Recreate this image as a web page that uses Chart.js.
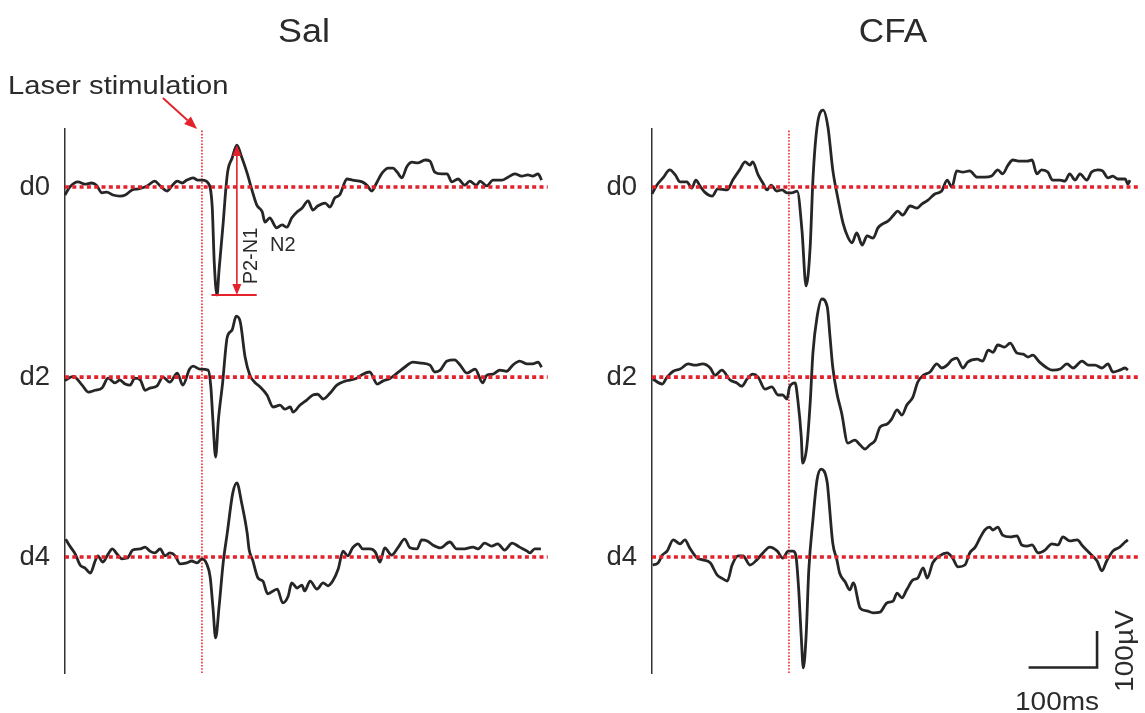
<!DOCTYPE html>
<html lang="en">
<head>
<meta charset="UTF-8">
<title>Sal vs CFA evoked potentials</title>
<script src="https://cdn.jsdelivr.net/npm/chart.js"></script>
<style>
    body {
        margin: 0;
        width: 1145px;
        height: 713px;
        overflow: hidden;
        background: #fff;
        position: relative;
        font-family: "Liberation Sans", Arial, sans-serif;
        color: #2b2b2b;
    }
    canvas { position: absolute; top: 0; }
    #salChart { left: 0; }
    #cfaChart { left: 587px; }
    .lbl { position: absolute; line-height: 1; white-space: nowrap; }
</style>
</head>
<body>
<canvas id="salChart" width="558" height="713"></canvas>
<canvas id="cfaChart" width="558" height="713"></canvas>

<div class="lbl" style="left:304px; top:13.6px; font-size:33.5px; transform:translateX(-50%) scaleX(1.07);">Sal</div>
<div class="lbl" style="left:893px; top:13.6px; font-size:33.5px; transform:translateX(-50%) scaleX(1.05);">CFA</div>
<div class="lbl" style="left:8px; top:73.4px; font-size:25.6px; transform-origin:left center; transform:scaleX(1.14);">Laser stimulation</div>
<div class="lbl" style="left:270px; top:234.4px; font-size:20px;">N2</div>
<div class="lbl" style="left:249.5px; top:255.5px; font-size:20px; transform:translate(-50%,-50%) rotate(-90deg);">P2-N1</div>
<div class="lbl" style="left:1015px; top:688.7px; font-size:25px; transform-origin:left center; transform:scaleX(1.12);">100ms</div>
<div class="lbl" style="left:1123.5px; top:651px; font-size:26px; transform:translate(-50%,-50%) rotate(-90deg) scaleX(1.08);">100µV</div>

<script>
    // time in ms (0 = laser onset), amplitude in µV
    const salD0 = [[-200,-22],[-193,0],[-181,14],[-171,8],[-161,11],[-154,5],[-146,-16],[-139,-14],[-130,-22],[-120,-25],[-112,-22],[-102,-8],[-93,-5],[-80,3],[-69,16],[-61,3],[-51,-11],[-44,3],[-36,16],[-29,11],[-22,19],[-13,25],[-6,19],[1,19],[9,11],[15,-55],[18,-208],[22,-296],[25,-227],[31,-99],[35,-3],[38,47],[44,79],[51,115],[58,82],[66,38],[73,-8],[80,-49],[88,-68],[92,-96],[99,-85],[109,-112],[117,-104],[124,-110],[131,-85],[139,-68],[146,-58],[155,-38],[162,-63],[169,-52],[180,-44],[187,-55],[194,-30],[201,-22],[212,22],[220,19],[234,14],[241,5],[248,-11],[255,11],[263,38],[272,52],[279,52],[285,41],[292,25],[299,55],[307,68],[315,66],[326,74],[333,71],[340,41],[350,36],[358,36],[365,14],[374,22],[384,5],[391,16],[401,5],[406,16],[416,3],[425,19],[438,19],[447,27],[457,36],[467,30],[476,33],[483,30],[491,36],[496,19]];
    const salD2 = [[-200,-9],[-188,2],[-175,-22],[-166,-41],[-156,-36],[-146,-30],[-137,-3],[-127,-16],[-120,-8],[-112,-19],[-105,-22],[-98,-3],[-90,-8],[-83,-36],[-76,-30],[-66,-25],[-57,0],[-47,-14],[-36,11],[-28,-22],[-18,22],[-13,30],[-3,22],[9,19],[13,-27],[16,-118],[20,-219],[24,-118],[30,-19],[37,110],[44,129],[50,167],[56,151],[63,55],[70,5],[77,-14],[85,-27],[95,-49],[104,-82],[114,-77],[121,-88],[129,-82],[133,-96],[143,-77],[153,-63],[162,-49],[169,-47],[177,-60],[187,-44],[197,-22],[209,-11],[216,-8],[226,-3],[235,8],[245,14],[256,-19],[264,-11],[275,-3],[285,11],[296,27],[308,41],[321,38],[333,33],[340,14],[348,19],[358,44],[369,47],[377,33],[387,11],[399,22],[410,-16],[416,5],[425,8],[435,19],[445,16],[454,33],[464,44],[475,36],[483,36],[491,41],[496,27]];
    const salD4 = [[-199,49],[-193,30],[-185,8],[-178,-22],[-171,-30],[-163,-44],[-156,-11],[-152,3],[-145,-14],[-137,8],[-131,22],[-124,8],[-117,-5],[-109,-3],[-101,19],[-90,22],[-83,27],[-76,16],[-69,11],[-61,22],[-54,3],[-47,11],[-39,3],[-32,-19],[-22,-16],[-15,-11],[-7,-16],[0,-5],[7,-19],[12,-55],[16,-137],[20,-222],[25,-137],[31,-16],[37,66],[45,175],[51,203],[58,148],[66,66],[69,19],[74,-8],[82,-58],[89,-66],[96,-101],[110,-88],[118,-126],[126,-107],[131,-71],[139,-85],[146,-77],[150,-93],[158,-66],[168,-88],[177,-71],[184,-79],[191,-66],[199,-33],[206,16],[213,3],[220,25],[228,36],[235,22],[245,22],[253,14],[260,-14],[267,25],[277,5],[286,25],[296,49],[304,25],[314,22],[321,47],[329,44],[337,33],[348,25],[362,41],[372,22],[381,22],[396,27],[403,22],[413,38],[423,30],[432,36],[442,19],[453,38],[464,27],[475,16],[479,11],[486,22],[495,22]];

    const cfaD0 = [[-200,-19],[-193,5],[-184,25],[-174,47],[-166,33],[-159,14],[-149,14],[-142,-3],[-136,19],[-130,3],[-123,-14],[-112,-25],[-104,-5],[-90,-8],[-82,19],[-72,47],[-64,69],[-57,60],[-53,69],[-45,33],[-38,11],[-32,-8],[-26,5],[-18,-11],[-10,-8],[-3,-16],[4,-16],[12,-11],[19,-118],[25,-271],[31,-164],[35,19],[41,164],[50,211],[57,164],[64,47],[72,-36],[79,-99],[86,-137],[92,-153],[99,-126],[107,-159],[114,-134],[123,-140],[130,-112],[137,-101],[145,-93],[152,-79],[159,-66],[166,-77],[177,-52],[187,-58],[194,-47],[203,-36],[213,-19],[223,-11],[231,19],[238,0],[245,44],[254,41],[264,44],[275,27],[286,27],[296,30],[305,47],[312,36],[320,60],[327,74],[337,71],[348,71],[355,74],[362,36],[369,47],[378,41],[385,19],[396,19],[403,16],[410,36],[418,19],[425,36],[435,19],[442,41],[451,47],[458,44],[466,25],[473,30],[480,22],[491,22],[495,8],[498,19]];
    const cfaD2 = [[-199,-5],[-185,-19],[-178,0],[-169,16],[-159,22],[-147,36],[-137,33],[-126,36],[-115,25],[-108,5],[-98,19],[-86,-8],[-76,-16],[-69,-25],[-61,-5],[-53,8],[-45,0],[-35,-33],[-25,-27],[-16,-49],[-9,-49],[-3,-60],[1,-27],[9,-16],[13,-63],[18,-164],[20,-236],[26,-192],[31,-71],[35,66],[41,164],[48,214],[56,192],[60,110],[64,27],[70,-44],[77,-99],[86,-181],[96,-173],[104,-186],[111,-197],[118,-186],[126,-173],[133,-137],[143,-129],[150,-115],[158,-90],[165,-104],[172,-77],[181,-55],[188,-14],[196,5],[206,14],[216,36],[223,25],[231,33],[238,47],[245,52],[254,25],[261,41],[275,49],[283,44],[291,74],[298,68],[305,88],[315,82],[323,93],[333,66],[342,63],[349,55],[356,60],[366,41],[377,25],[385,19],[396,22],[406,36],[415,25],[428,44],[437,33],[447,33],[457,25],[466,36],[473,14],[483,19],[491,25],[495,19]];
    const cfaD4 = [[-199,-22],[-191,-16],[-185,5],[-178,16],[-169,47],[-159,36],[-152,47],[-145,25],[-134,-3],[-126,-8],[-115,-16],[-105,-49],[-98,-58],[-90,-66],[-83,-22],[-74,3],[-67,3],[-57,-22],[-47,-8],[-38,11],[-28,27],[-17,16],[-9,-3],[-1,16],[6,16],[10,5],[14,-82],[18,-219],[21,-304],[25,-219],[29,-36],[35,101],[41,211],[47,241],[56,203],[58,164],[64,38],[70,-8],[74,-44],[82,-68],[89,-90],[94,-71],[104,-140],[114,-148],[123,-153],[133,-151],[143,-126],[152,-121],[158,-99],[165,-112],[172,-90],[181,-63],[188,-58],[196,-30],[202,-58],[210,-16],[220,3],[231,11],[239,-3],[247,-27],[257,-22],[264,11],[272,27],[279,52],[286,74],[293,82],[298,74],[305,82],[312,60],[323,55],[333,58],[340,33],[348,30],[355,33],[364,11],[374,19],[384,36],[393,33],[400,55],[410,44],[421,47],[429,30],[439,11],[450,-11],[457,-38],[464,-11],[473,16],[483,27],[491,41],[495,47]];

    const rowLabels = ['d0', 'd2', 'd4'];
    const rowOffsets = [0, -521, -1014];   // vertical spacing of the three rows, µV
    const X_MIN = -200, X_MAX = 520;
    const Y_MIN = -1332, Y_MAX = 159;
    const scaleBar = { t: 350, v: -1317, ms: 100, uv: 100 };

    const RED = '#e3222b';
    const INK = '#262626';

    // arrows / marker lines, drawn in data units
    const arrowPlugin = {
        id: 'arrows',
        afterDatasetsDraw(chart, args, opts) {
            const ctx = chart.ctx;
            const xs = chart.scales.x, ys = chart.scales.y;
            (opts.items || []).forEach(a => {
                const x1 = xs.getPixelForValue(a.from[0]), y1 = ys.getPixelForValue(a.from[1]);
                const x2 = xs.getPixelForValue(a.to[0]), y2 = ys.getPixelForValue(a.to[1]);
                const len = Math.hypot(x2 - x1, y2 - y1);
                const ux = (x2 - x1) / len, uy = (y2 - y1) / len;
                const hl = a.headLen || 11, hw = a.headHalf || 4.5;
                const sx = a.heads === 'both' ? x1 + ux * hl : x1;
                const sy = a.heads === 'both' ? y1 + uy * hl : y1;
                const ex = a.heads ? x2 - ux * hl : x2;
                const ey = a.heads ? y2 - uy * hl : y2;
                ctx.save();
                ctx.strokeStyle = RED;
                ctx.fillStyle = RED;
                ctx.lineWidth = a.width || 1.6;
                ctx.beginPath();
                ctx.moveTo(sx, sy);
                ctx.lineTo(ex, ey);
                ctx.stroke();
                const head = (tx, ty, dx, dy) => {
                    ctx.beginPath();
                    ctx.moveTo(tx, ty);
                    ctx.lineTo(tx - dx * hl - dy * hw, ty - dy * hl + dx * hw);
                    ctx.lineTo(tx - dx * hl + dy * hw, ty - dy * hl - dx * hw);
                    ctx.closePath();
                    ctx.fill();
                };
                if (a.heads) head(x2, y2, ux, uy);
                if (a.heads === 'both') head(x1, y1, -ux, -uy);
                ctx.restore();
            });
        }
    };

    function makePanel(canvasId, traces, baseEnd, extra, arrows) {
        const datasets = [];
        rowOffsets.forEach(off => {
            datasets.push({
                data: [{x: X_MIN, y: off}, {x: baseEnd, y: off}],
                borderColor: RED, borderWidth: 3.6, borderDash: [4, 3.3],
                borderCapStyle: 'butt', order: 0
            });
        });
        // laser onset
        datasets.push({
            data: [{x: 0, y: Y_MIN}, {x: 0, y: Y_MAX}],
            borderColor: '#e8262e', borderWidth: 1.6, borderDash: [1.6, 1.6], order: 3
        });
        traces.forEach((tr, i) => {
            datasets.push({
                data: tr.map(([t, v]) => ({x: t, y: v + rowOffsets[i]})),
                borderColor: INK, borderWidth: 2.8,
                cubicInterpolationMode: 'monotone', borderJoinStyle: 'round', order: 1
            });
        });
        extra.forEach(d => datasets.push(d));
        datasets.forEach(d => { d.pointRadius = 0; d.clip = false; d.fill = false; });

        return new Chart(document.getElementById(canvasId), {
            type: 'line',
            data: { datasets: datasets },
            options: {
                responsive: false,
                animation: false,
                devicePixelRatio: 1,
                layout: { padding: { top: 129, bottom: 40, left: 0, right: 0 } },
                plugins: {
                    legend: { display: false },
                    tooltip: { enabled: false },
                    arrows: { items: arrows }
                },
                scales: {
                    x: { type: 'linear', min: X_MIN, max: X_MAX, display: false },
                    y: {
                        type: 'linear', min: Y_MIN, max: Y_MAX,
                        grid: { display: false },
                        border: { display: true, color: '#333', width: 1.5 },
                        afterBuildTicks: s => { s.ticks = rowOffsets.map(v => ({value: v})); },
                        afterFit: s => { s.width = 65; },
                        ticks: {
                            padding: 7,
                            color: '#2b2b2b',
                            font: { family: '"Liberation Sans", Arial, sans-serif', size: 27.5 },
                            callback: (v, i) => rowLabels[i]
                        }
                    }
                }
            },
            plugins: [arrowPlugin]
        });
    }

    // P2-N1 marker taken from the Sal d0 trace
    const n1 = salD0.reduce((a, b) => (b[1] < a[1] ? b : a));
    const p2 = salD0.reduce((a, b) => (b[1] > a[1] ? b : a));

    makePanel('salChart', [salD0, salD2, salD4], 505, [], [
        { from: [-57, 244], to: [-7, 159], heads: 'end', width: 1.9, headLen: 13, headHalf: 5 },
        { from: [p2[0], n1[1]], to: [p2[0], p2[1]], heads: 'both', width: 1.6 },
        { from: [n1[0] - 8, n1[1]], to: [p2[0] + 29, n1[1]], width: 1.8 }
    ]);

    makePanel('cfaChart', [cfaD0, cfaD2, cfaD4], 513, [
        {
            data: [
                {x: scaleBar.t, y: scaleBar.v},
                {x: scaleBar.t + scaleBar.ms, y: scaleBar.v},
                {x: scaleBar.t + scaleBar.ms, y: scaleBar.v + scaleBar.uv}
            ],
            borderColor: INK, borderWidth: 2.6, borderJoinStyle: 'miter', order: 1
        }
    ], []);
</script>
</body>
</html>
